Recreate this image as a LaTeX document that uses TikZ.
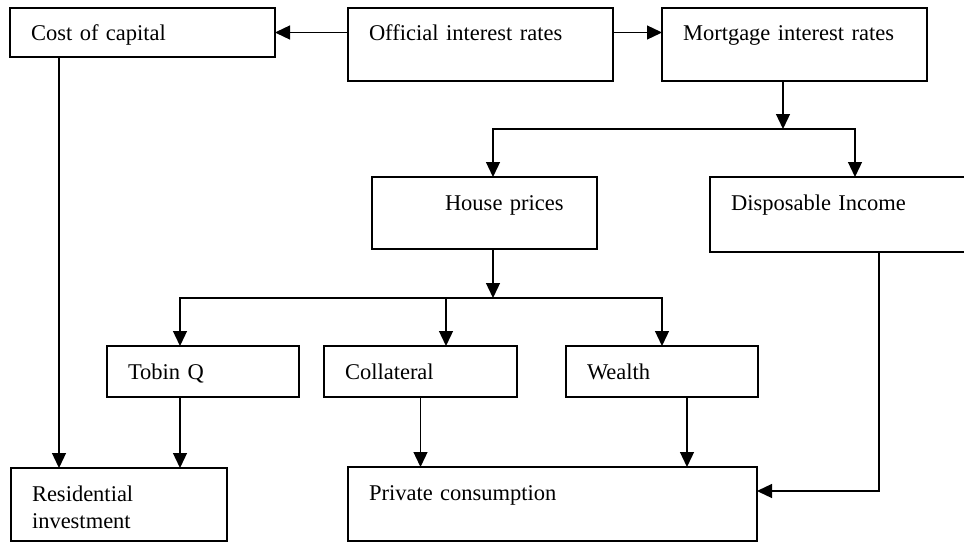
\documentclass[tikz,border=0pt]{standalone}
\usepackage{fontspec}
\setmainfont{Liberation Serif}
\usetikzlibrary{arrows.meta,positioning}

\begin{document}
\begin{tikzpicture}[x=1pt, y=-1pt,
  box/.style = {draw, line width=1.2pt, anchor=north west, outer sep=0pt, inner xsep=21pt, inner ysep=0pt, text height=33pt, align=left, font=\fontsize{22.5}{27}\selectfont},
  arrow/.style = {line width=1.3pt, -{Triangle[length=15pt, width=14pt]}}
  ]

\useasboundingbox (0,0) rectangle (964,543);

% Top layer: rates
\node[box, text width=223pt, text depth=16pt] (cost) at (10,8) {Cost of capital};
\node[box, text width=223pt, text depth=40pt] (official) at (348,8) {Official interest rates};
\node[box, text width=223pt, text depth=40pt, right=49pt of official] (mortgage) {Mortgage interest rates};

% 2nd layer
\node[box, text width=183pt, text depth=39pt] (house) at (372,177) {\hspace*{52pt}House prices};
\node[box, text width=228pt, text depth=42pt] (income) at (710,177) {Disposable Income};

% 3rd layer: channels
\node[box, text width=150pt, text depth=18pt] (tobin) at (107,346) {Tobin Q};
\node[box, text width=151pt, text depth=18pt, right=25pt of tobin] (collateral) {Collateral};
\node[box, text width=150pt, text depth=18pt, right=49pt of collateral] (wealth) {Wealth};

% Bottom layer: demand
\node[box, text width=174pt, text depth=40pt] (resid) at (11,468) {Residential\\investment};
\node[box, text width=367pt, text depth=41pt] (consumption) at (348,467) {Private consumption};

% Split points
\coordinate (ratesplit) at (783,129);
\coordinate (housesplit) at (493,298);

% Draw arrows
\draw[arrow] (cost.east -| official.west) -- (cost.east);
\draw[arrow] (cost.east -| official.east) -- (cost.east -| mortgage.west);

\draw[arrow] ([xshift=-11.5pt]mortgage.south) -- (ratesplit);
\draw[arrow] (ratesplit) -| ([xshift=8.5pt]house.north);
\draw[arrow] (ratesplit) -| ([xshift=10pt]income.north);

\draw[arrow] ([xshift=8.5pt]house.south) -- (housesplit);
\draw[arrow] (housesplit) -| ([xshift=-23pt]tobin.north);
\draw[arrow] (housesplit) -| ([xshift=25.5pt]collateral.north);
\draw[arrow] (housesplit) -| (wealth.north);

\draw[arrow] ([xshift=-83.5pt]cost.south) -- ([xshift=-83.5pt]cost.south |- resid.north);
\draw[arrow] ([xshift=-23pt]tobin.south) -- ([xshift=-23pt]tobin.south |- resid.north);
\draw[arrow] (collateral.south) -- (collateral.south |- consumption.north);
\draw[arrow] ([xshift=25pt]wealth.south) -- ([xshift=25pt]wealth.south |- consumption.north);
\draw[arrow] ([xshift=34pt]income.south) |- ([yshift=13pt]consumption.east);
\end{tikzpicture}
\end{document}
